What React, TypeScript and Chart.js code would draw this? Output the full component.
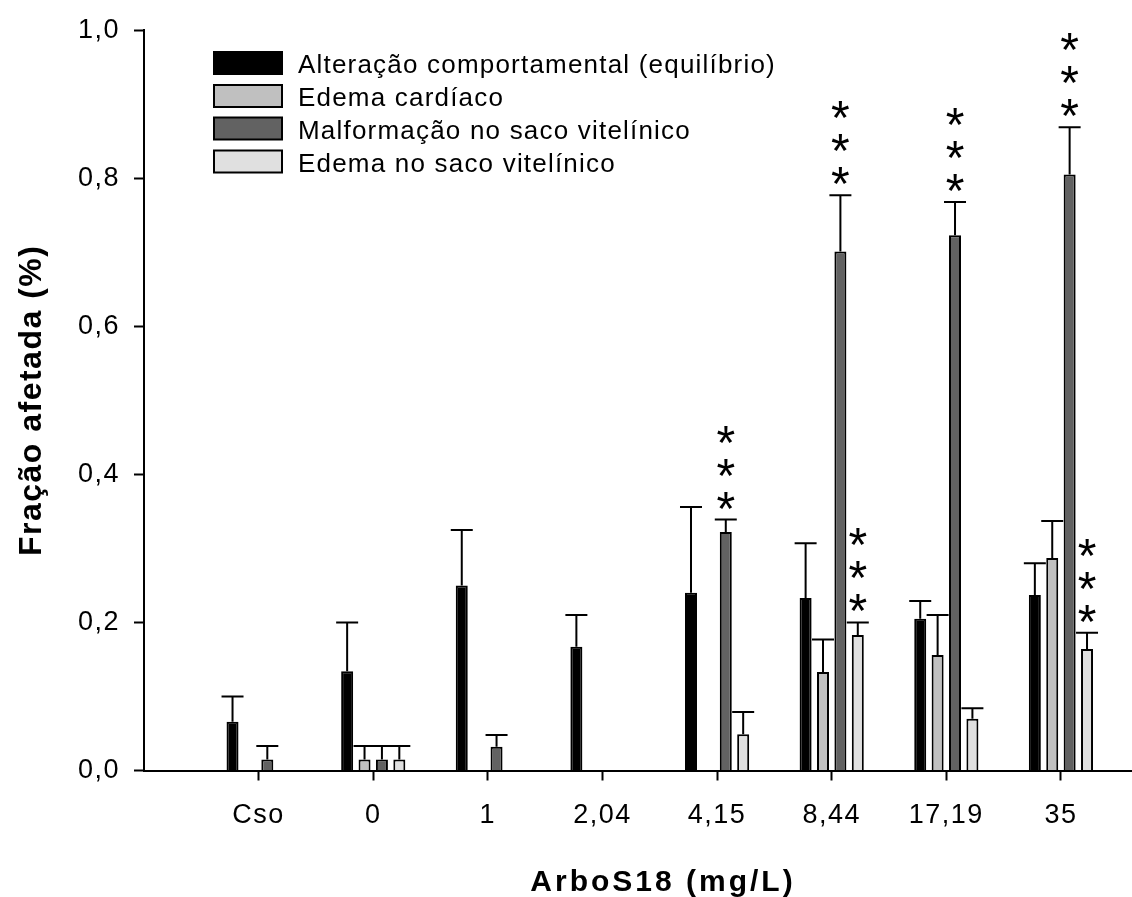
import React, { useEffect, useRef } from 'react';
import { Chart, registerables } from 'chart.js';

Chart.register(...registerables);

// ---- Data ----
const categories = ['Cso', '0', '1', '2,04', '4,15', '8,44', '17,19', '35'];

const seriesNames = [
  'Alteração comportamental (equilíbrio)',
  'Edema cardíaco',
  'Malformação no saco vitelínico',
  'Edema no saco vitelínico',
];

const alteracao = [0.066, 0.134, 0.250, 0.167, 0.240, 0.233, 0.205, 0.237];
const alteracaoErr = [0.034, 0.066, 0.075, 0.043, 0.116, 0.074, 0.024, 0.043];

const edemaCardiaco = [null, 0.015, null, null, null, 0.133, 0.156, 0.287];
const edemaCardiacoErr = [null, 0.018, null, null, null, 0.044, 0.054, 0.050];

const malformacao = [0.015, 0.015, 0.032, null, 0.322, 0.701, 0.723, 0.805];
const malformacaoErr = [0.018, 0.018, 0.016, null, 0.017, 0.076, 0.045, 0.064];

const edemaSaco = [null, 0.015, null, null, 0.049, 0.183, 0.070, 0.164];
const edemaSacoErr = [null, 0.018, null, null, 0.030, 0.017, 0.014, 0.022];

// significance marks (***): category index and series index
const sigCategory = [4, 5, 5, 6, 7, 7];
const sigSeries = [2, 2, 3, 2, 2, 3];
const sigLabel = '*';

const yTicks = [0, 0.2, 0.4, 0.6, 0.8, 1.0];

const colors = ['#000000', '#c0c0c0', '#626262', '#e0e0e0'];

const FONT = '"Liberation Sans", Arial, sans-serif';

export default function App() {
  const ref = useRef<HTMLCanvasElement>(null);

  useEffect(() => {
    const canvas = ref.current;
    if (!canvas) return;
    const values = [alteracao, edemaCardiaco, malformacao, edemaSaco];
    const errors = [alteracaoErr, edemaCardiacoErr, malformacaoErr, edemaSacoErr];

    const spacingPlugin = {
      id: 'spacing',
      beforeDraw(chart: any) {
        chart.ctx.letterSpacing = '1.5px';
      },
    };

    const errorPlugin = {
      id: 'errors',
      afterDatasetsDraw(chart: any) {
        const ctx = chart.ctx;
        const yScale = chart.scales.y;
        ctx.save();
        ctx.strokeStyle = '#000';
        ctx.lineWidth = 2;
        values.forEach((arr, di) => {
          const meta = chart.getDatasetMeta(di);
          arr.forEach((v, i) => {
            const e = errors[di][i];
            if (v == null || e == null) return;
            const bar = meta.data[i];
            if (!bar) return;
            const x = bar.x;
            const yTop = yScale.getPixelForValue(v);
            const yErr = yScale.getPixelForValue(v + e);
            ctx.beginPath();
            ctx.moveTo(x, yTop);
            ctx.lineTo(x, yErr);
            ctx.moveTo(x - 11, yErr);
            ctx.lineTo(x + 11, yErr);
            ctx.stroke();
          });
        });
        // significance asterisks
        ctx.fillStyle = '#000';
        ctx.letterSpacing = '0px';
        ctx.font = `48px ${FONT}`;
        ctx.textAlign = 'center';
        ctx.textBaseline = 'alphabetic';
        const m = ctx.measureText(sigLabel);
        const asc = m.actualBoundingBoxAscent;
        const desc = m.actualBoundingBoxDescent;
        sigCategory.forEach((ci, k) => {
          const di = sigSeries[k];
          const v = values[di][ci];
          const e = errors[di][ci] || 0;
          if (v == null) return;
          const bar = chart.getDatasetMeta(di).data[ci];
          const capY = yScale.getPixelForValue(v + e);
          for (let j = 0; j < 3; j++) {
            const cy = capY - 19.5 - j * 33;
            const base = cy - (desc - asc) / 2;
            ctx.fillText(sigLabel, bar.x, base);
          }
        });
        ctx.restore();
      },
    };

    const legendPlugin = {
      id: 'customLegend',
      afterDraw(chart: any) {
        const ctx = chart.ctx;
        ctx.save();
        ctx.letterSpacing = '1.2px';
        ctx.font = `26px ${FONT}`;
        ctx.textAlign = 'left';
        ctx.textBaseline = 'alphabetic';
        const tops = [52, 85, 117.5, 150.5];
        seriesNames.forEach((name, i) => {
          const top = tops[i];
          ctx.fillStyle = colors[i];
          ctx.fillRect(214, top, 68, 22);
          ctx.strokeStyle = '#000';
          ctx.lineWidth = 2;
          ctx.strokeRect(214, top, 68, 22);
          ctx.fillStyle = '#000';
          ctx.fillText(name, 298, top + 21);
        });
        // x axis title
        ctx.letterSpacing = '3px';
        ctx.font = `bold 30px ${FONT}`;
        ctx.textAlign = 'center';
        ctx.fillText('ArboS18 (mg/L)', 663, 890.5);
        ctx.restore();
      },
    };

    const chart = new Chart(canvas, {
      type: 'bar',
      data: {
        datasets: values.map((arr, di) => ({
          label: seriesNames[di],
          data: arr.map((v, i) => ({ x: i, y: v })),
          backgroundColor: colors[di],
          borderColor: '#000',
          borderWidth: 2,
          categoryPercentage: 0.607,
          barPercentage: 0.69,
        })),
      },
      options: {
        responsive: false,
        animation: false,
        layout: { padding: { top: 29.5, right: 0, bottom: 0, left: 0 } },
        plugins: {
          legend: { display: false },
          tooltip: { enabled: false },
        },
        scales: {
          x: {
            type: 'linear',
            offset: false,
            min: -1,
            max: 7.62,
            afterBuildTicks: (scale: any) => {
              scale.ticks = categories.map((_, i) => ({ value: i }));
            },
            afterFit: (scale: any) => {
              scale.height = 126.5;
            },
            grid: {
              offset: false,
              drawOnChartArea: false,
              drawTicks: true,
              tickLength: 10,
              tickWidth: 2,
              tickColor: '#000',
            },
            border: { display: true, color: '#000', width: 2 },
            ticks: {
              color: '#000',
              font: { family: FONT, size: 27 },
              padding: 19,
              maxRotation: 0,
              autoSkip: false,
              callback: (v: any) => categories[v] ?? '',
            },
          },
          y: {
            type: 'linear',
            min: 0,
            max: 1,
            afterBuildTicks: (scale: any) => {
              scale.ticks = yTicks.map((v) => ({ value: v }));
            },
            afterFit: (scale: any) => {
              scale.width = 144;
            },
            grid: {
              drawOnChartArea: false,
              drawTicks: true,
              tickLength: 10,
              tickWidth: 2,
              tickColor: '#000',
            },
            border: { display: true, color: '#000', width: 2 },
            ticks: {
              color: '#000',
              font: { family: FONT, size: 27 },
              padding: 14,
              callback: (v: any) => Number(v).toFixed(1).replace('.', ','),
            },
            title: {
              display: true,
              text: 'Fração afetada (%)',
              color: '#000',
              font: { family: FONT, size: 32, weight: 'bold' },
              padding: { top: 13, bottom: 0 },
            },
          },
        },
      },
      plugins: [spacingPlugin, errorPlugin, legendPlugin],
    } as any);

    return () => chart.destroy();
  }, []);

  return (
    <div style={{ position: 'absolute', left: 0, top: 0, width: 1132, height: 897, background: '#fff' }}>
      <canvas ref={ref} width={1132} height={897} style={{ width: 1132, height: 897 }} />
    </div>
  );
}
